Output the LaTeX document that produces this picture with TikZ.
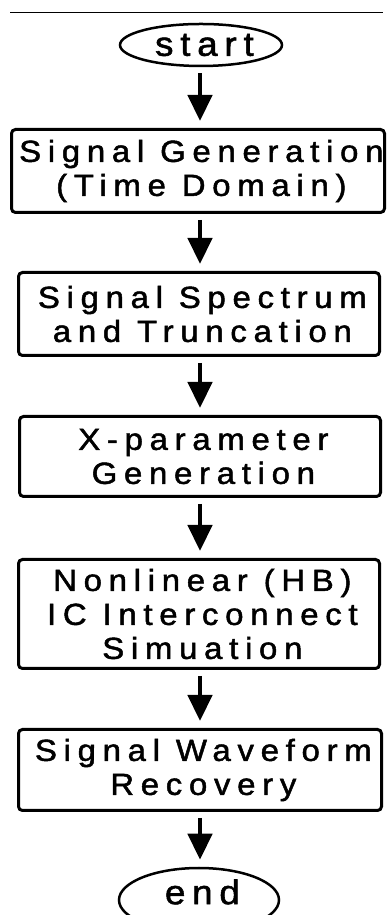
\documentclass[tikz,border=0pt]{standalone}
\usepackage{fontspec}
\usetikzlibrary{arrows.meta,shapes.geometric}
\newfontfamily\boxfont[LetterSpace=22,FakeBold=1.6,FakeStretch=1.08]{Liberation Sans}
\newfontfamily\termfont[LetterSpace=20,FakeBold=1.6,FakeStretch=1.08]{Liberation Sans}
\newcommand{\trk}[1]{#1\kern-0.22em}
\newcommand{\trt}[1]{#1\kern-0.2em}
\begin{document}
\begin{tikzpicture}[x=1pt,y=1pt,
  procbox/.style={draw=black, line width=3pt, rounded corners=4pt, rectangle,
    inner sep=0pt, align=center,
    font=\boxfont\fontsize{30.5}{34}\selectfont},
  term/.style={draw=black, line width=2.5pt, ellipse, inner sep=0pt,
    font=\termfont\fontsize{34}{38}\selectfont},
  arr/.style={line width=4.5pt, -{Triangle[length=26pt,width=24pt]},
    shorten <=6pt, shorten >=7pt}]
\useasboundingbox (0,0) rectangle (387,915);
\fill[white] (0,0) rectangle (387,915);
\coordinate (tl) at (10,902);
\coordinate (tr) at (383,902);
\coordinate (ax) at (200,0);
\draw[line width=1pt] (tl) -- (tr);
\node[term, minimum width=162pt, minimum height=42pt] (startnode) at (201,870) {\trt{start}};
\node[procbox, minimum width=373pt, minimum height=83pt] (b1) at (198,744)
  {\trk{Signal Generation}\\\trk{(Time Domain)}};
\node[procbox, minimum width=361pt, minimum height=83pt] (b2) at (199,601)
  {\trk{Signal Spectrum}\\\trk{and Truncation}};
\node[procbox, minimum width=361pt, minimum height=80pt] (b3) at (200,458.5)
  {\trk{X-parameter}\\\trk{Generation}};
\node[procbox, minimum width=361pt, minimum height=109pt] (b4) at (199,301)
  {\trk{Nonlinear (HB)}\\\trk{IC Interconnect}\\\trk{Simuation}};
\node[procbox, minimum width=363pt, minimum height=81pt] (b5) at (200,145)
  {\trk{Signal Waveform}\\\trk{Recovery}};
\node[term, minimum width=160pt, minimum height=64pt] (endnode) at (199,15)
  {\raisebox{8pt}[\height][\depth]{\trt{end}}};
\draw[arr] (startnode.south -| ax) -- (b1.north -| ax);
\draw[arr] (b1.south -| ax) -- (b2.north -| ax);
\draw[arr] (b2.south -| ax) -- (b3.north -| ax);
\draw[arr] (b3.south -| ax) -- (b4.north -| ax);
\draw[arr] (b4.south -| ax) -- (b5.north -| ax);
\draw[arr] (b5.south -| ax) -- (endnode.north -| ax);
\end{tikzpicture}
\end{document}
